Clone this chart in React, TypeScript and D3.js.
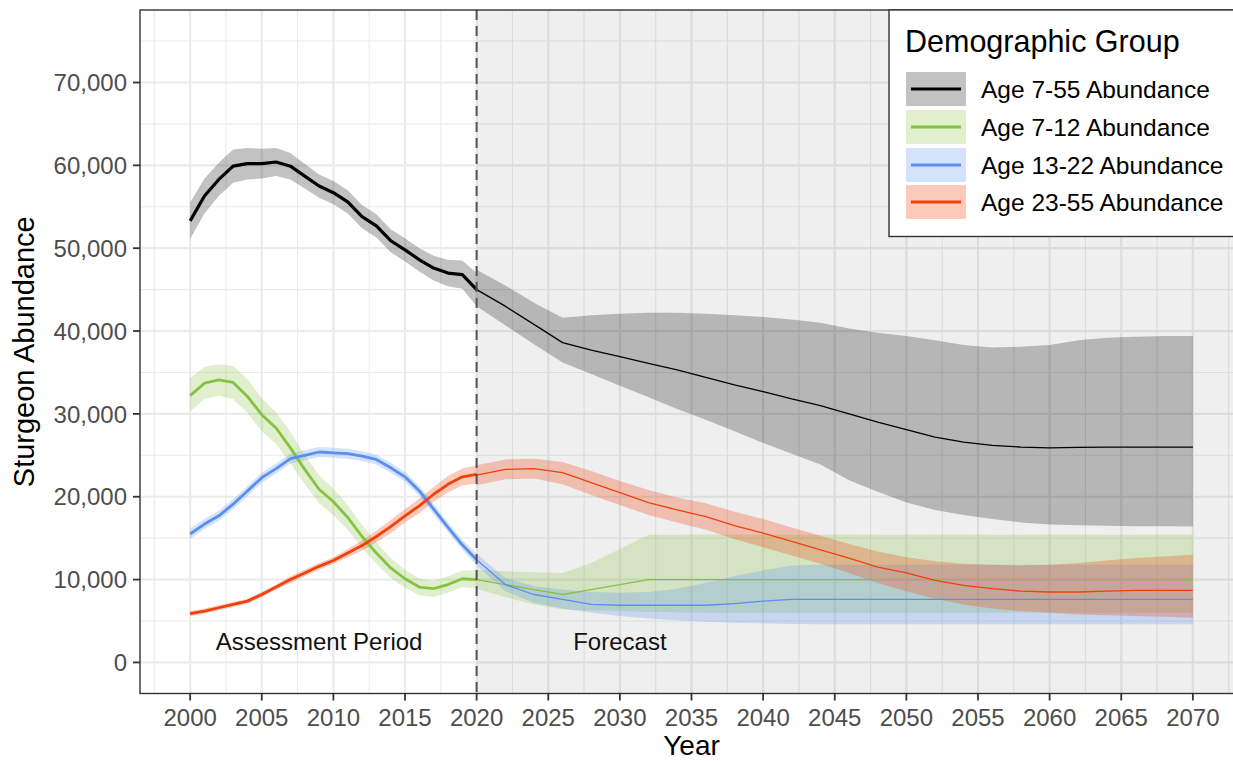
import * as d3 from 'd3';

// Years: stock assessment (annual) and forecast (every two years)
const assessYears = [
  2000, 2001, 2002, 2003, 2004, 2005, 2006, 2007, 2008, 2009, 2010,
  2011, 2012, 2013, 2014, 2015, 2016, 2017, 2018, 2019, 2020,
];
const forecastYears = [
  2020, 2022, 2024, 2026, 2028, 2030, 2032, 2034, 2036, 2038, 2040, 2042, 2044,
  2046, 2048, 2050, 2052, 2054, 2056, 2058, 2060, 2062, 2064, 2066, 2068, 2070,
];

// Age 7-55
const allAssessMean = [53300, 56300, 58300, 59900, 60200, 60200, 60400, 59900, 58700, 57500, 56700, 55600, 53800, 52700, 50900, 49800, 48600, 47600, 47000, 46800, 45000];
const allAssessHi = [55500, 58400, 60300, 61900, 62100, 62000, 62100, 61500, 60200, 58900, 58100, 57000, 55200, 54100, 52300, 51200, 50000, 49100, 48600, 48500, 47000];
const allAssessLo = [51100, 54200, 56300, 57900, 58300, 58400, 58700, 58300, 57200, 56100, 55300, 54200, 52400, 51300, 49500, 48400, 47200, 46100, 45400, 45100, 43000];
const allFcMean = [45000, 43000, 40800, 38600, 37700, 36900, 36100, 35300, 34400, 33500, 32700, 31800, 31000, 30000, 29000, 28100, 27200, 26600, 26200, 26000, 25900, 25950, 26000, 26000, 26000, 26000];
const allFcHi = [47400, 45500, 43400, 41600, 41900, 42100, 42200, 42200, 42100, 41900, 41700, 41400, 41000, 40300, 39800, 39400, 38900, 38300, 38000, 38100, 38300, 38900, 39200, 39300, 39400, 39400];
const allFcLo = [43000, 40700, 38400, 36200, 34800, 33400, 32000, 30600, 29300, 27900, 26500, 25200, 23900, 22000, 20600, 19300, 18400, 17800, 17300, 16900, 16650, 16550, 16500, 16450, 16450, 16400];

// Age 7-12
const youngAssessMean = [32200, 33700, 34100, 33800, 32100, 29900, 28300, 25900, 23300, 20900, 19400, 17500, 15200, 13200, 11400, 10100, 9100, 8900, 9400, 10100, 10000];
const youngAssessHi = [34300, 35700, 36000, 35800, 34200, 31900, 30200, 27800, 25100, 22600, 21000, 19000, 16600, 14500, 12600, 11200, 10100, 9900, 10400, 11100, 11100];
const youngAssessLo = [30300, 31800, 32200, 31800, 30100, 27900, 26400, 24000, 21500, 19200, 17800, 16000, 13800, 11900, 10200, 9000, 8100, 7900, 8400, 9100, 8900];
const youngFcMean = [10000, 9400, 8800, 8200, 8800, 9400, 10000, 10000, 10000, 10000, 10000, 10000, 10000, 10000, 10000, 10000, 10000, 10000, 10000, 10000, 10000, 10000, 10000, 10000, 10000, 10000];
const youngFcHi = [11200, 11000, 10900, 10800, 12000, 13700, 15400, 15400, 15450, 15450, 15400, 15400, 15450, 15450, 15400, 15400, 15450, 15450, 15400, 15400, 15450, 15450, 15400, 15400, 15450, 15450];
const youngFcLo = [8900, 7900, 7000, 6400, 6300, 6200, 6100, 6050, 6000, 6000, 6000, 6000, 6000, 6000, 6000, 6000, 6000, 6000, 6000, 6000, 6000, 6000, 6000, 6000, 6000, 6000];

// Age 13-22
const midAssessMean = [15500, 16700, 17700, 19100, 20700, 22300, 23400, 24600, 25000, 25400, 25300, 25200, 24900, 24500, 23500, 22400, 20700, 18500, 16300, 14200, 12400];
const midAssessHi = [16200, 17300, 18300, 19700, 21300, 22900, 24000, 25200, 25600, 26000, 25900, 25800, 25500, 25100, 24100, 23000, 21300, 19100, 16900, 14800, 13100];
const midAssessLo = [14900, 16100, 17100, 18500, 20100, 21700, 22800, 24000, 24400, 24800, 24700, 24600, 24300, 23900, 22900, 21800, 20100, 17900, 15700, 13600, 11700];
const midFcMean = [12400, 9400, 8200, 7600, 7000, 6900, 6900, 6900, 6900, 7100, 7400, 7600, 7600, 7600, 7600, 7600, 7600, 7600, 7600, 7600, 7600, 7600, 7600, 7600, 7600, 7600];
const midFcHi = [13100, 10200, 9200, 8800, 8500, 8400, 8500, 8900, 9600, 10400, 11100, 11700, 11800, 11800, 11800, 11800, 11800, 11800, 11800, 11800, 11800, 11800, 11800, 11800, 11800, 11800];
const midFcLo = [11700, 8600, 7200, 6500, 6000, 5600, 5300, 5100, 4900, 4800, 4700, 4650, 4600, 4600, 4600, 4600, 4600, 4600, 4600, 4600, 4600, 4600, 4600, 4600, 4600, 4600];

// Age 23-55
const oldAssessMean = [5900, 6200, 6600, 7000, 7400, 8200, 9100, 10000, 10800, 11600, 12300, 13200, 14100, 15200, 16400, 17700, 18900, 20300, 21500, 22400, 22700];
const oldAssessHi = [6200, 6500, 6900, 7300, 7700, 8500, 9400, 10400, 11200, 12000, 12700, 13700, 14700, 15900, 17200, 18500, 19800, 21200, 22500, 23400, 23800];
const oldAssessLo = [5600, 5900, 6300, 6700, 7100, 7900, 8800, 9600, 10400, 11200, 11900, 12700, 13500, 14500, 15600, 16900, 18000, 19400, 20500, 21400, 21600];
const oldFcMean = [22600, 23300, 23400, 22900, 21700, 20500, 19300, 18400, 17600, 16500, 15600, 14600, 13600, 12600, 11500, 10800, 9900, 9300, 8900, 8600, 8500, 8500, 8600, 8700, 8700, 8700];
const oldFcHi = [23800, 24500, 24600, 24200, 23100, 21900, 20800, 19900, 19200, 18200, 17300, 16300, 15300, 14300, 13400, 12700, 12200, 11900, 11800, 11700, 11800, 12000, 12300, 12600, 12800, 13000];
const oldFcLo = [21400, 22100, 22200, 21500, 20200, 19000, 17800, 16900, 16000, 14900, 13900, 12900, 11900, 10800, 9600, 8600, 7700, 7000, 6500, 6200, 6000, 5800, 5700, 5600, 5500, 5400];

const xTicks = [2000, 2005, 2010, 2015, 2020, 2025, 2030, 2035, 2040, 2045, 2050, 2055, 2060, 2065, 2070];
const xMinor = [1997.5, 2002.5, 2007.5, 2012.5, 2017.5, 2022.5, 2027.5, 2032.5, 2037.5, 2042.5, 2047.5, 2052.5, 2057.5, 2062.5, 2067.5, 2072.5];
const yTicks = [0, 10000, 20000, 30000, 40000, 50000, 60000, 70000];
const yMinor = [5000, 15000, 25000, 35000, 45000, 55000, 65000, 75000];

const groups = [
  { label: 'Age 7-55 Abundance', color: '#000000', alpha: 0.24, thick: 3.2,
    assess: [allAssessMean, allAssessLo, allAssessHi], fc: [allFcMean, allFcLo, allFcHi] },
  { label: 'Age 7-12 Abundance', color: '#86c241', alpha: 0.26, thick: 2.8,
    assess: [youngAssessMean, youngAssessLo, youngAssessHi], fc: [youngFcMean, youngFcLo, youngFcHi] },
  { label: 'Age 13-22 Abundance', color: '#5a8ef0', alpha: 0.26, thick: 2.8,
    assess: [midAssessMean, midAssessLo, midAssessHi], fc: [midFcMean, midFcLo, midFcHi] },
  { label: 'Age 23-55 Abundance', color: '#f2400c', alpha: 0.28, thick: 2.8,
    assess: [oldAssessMean, oldAssessLo, oldAssessHi], fc: [oldFcMean, oldFcLo, oldFcHi] },
];

const W = 1233;
const H = 761;
const FONT = '"Liberation Sans", Arial, Helvetica, sans-serif';

export default function App() {
  const x = d3.scaleLinear().domain([1996.5, 2073.5]).range([140, 1243]);
  const y = d3.scaleLinear().domain([-3750, 78750]).range([693.5, 10]);
  const left = x(1996.5);
  const top = y(78750);
  const bottom = y(-3750);
  const right = x(2073.5);

  const toRows = (years: number[], s: number[][]) =>
    years.map((yr, i) => ({ yr, m: s[0][i], lo: s[1][i], hi: s[2][i] }));

  const area = d3
    .area<{ yr: number; lo: number; hi: number }>()
    .x((d) => x(d.yr))
    .y0((d) => y(d.lo))
    .y1((d) => y(d.hi));
  const line = d3
    .line<{ yr: number; m: number }>()
    .x((d) => x(d.yr))
    .y((d) => y(d.m));

  const legendX = 889;
  const legendY = 10;
  const keyTop = [72, 110, 148, 185];

  return (
    <svg
      width={W}
      height={H}
      style={{ position: 'absolute', left: 0, top: 0, display: 'block', fontFamily: FONT }}
    >
      <rect width={W} height={H} fill="#fff" />

      {/* grid */}
      {xMinor.map((v) => (
        <line key={'xm' + v} x1={x(v)} x2={x(v)} y1={top} y2={bottom} stroke="#ebebeb" strokeWidth={1.1} />
      ))}
      {yMinor.map((v) => (
        <line key={'ym' + v} x1={left} x2={right} y1={y(v)} y2={y(v)} stroke="#ebebeb" strokeWidth={1.1} />
      ))}
      {xTicks.map((v) => (
        <line key={'xg' + v} x1={x(v)} x2={x(v)} y1={top} y2={bottom} stroke="#ebebeb" strokeWidth={2.2} />
      ))}
      {yTicks.map((v) => (
        <line key={'yg' + v} x1={left} x2={right} y1={y(v)} y2={y(v)} stroke="#ebebeb" strokeWidth={2.2} />
      ))}

      {/* forecast shading */}
      <rect x={x(2020)} y={top} width={right - x(2020)} height={bottom - top} fill="#000" fillOpacity={0.062} />

      {/* ribbons */}
      {groups.map((g) => (
        <g key={'rb' + g.label}>
          <path d={area(toRows(assessYears, g.assess)) || ''} fill={g.color} fillOpacity={g.alpha} />
          <path d={area(toRows(forecastYears, g.fc)) || ''} fill={g.color} fillOpacity={g.alpha} />
        </g>
      ))}

      {/* lines */}
      {groups.map((g) => (
        <g key={'ln' + g.label} fill="none" stroke={g.color} strokeLinejoin="round">
          <path d={line(toRows(assessYears, g.assess)) || ''} strokeWidth={g.thick} />
          <path d={line(toRows(forecastYears, g.fc)) || ''} strokeWidth={1.3} />
        </g>
      ))}

      {/* divider */}
      <line x1={x(2020)} x2={x(2020)} y1={top} y2={bottom} stroke="#555" strokeWidth={2} strokeDasharray="10 6" />

      <text x={x(2009)} y={y(2500)} fontSize={24} textAnchor="middle" dominantBaseline="central" fill="#111">
        Assessment Period
      </text>
      <text x={x(2030)} y={y(2500)} fontSize={24} textAnchor="middle" dominantBaseline="central" fill="#111">
        Forecast
      </text>

      {/* panel border */}
      <rect x={left} y={top} width={right - left} height={bottom - top} fill="none" stroke="#333" strokeWidth={1.4} />

      {/* axes */}
      {xTicks.map((v) => (
        <g key={'xt' + v}>
          <line x1={x(v)} x2={x(v)} y1={bottom} y2={bottom + 7} stroke="#333" strokeWidth={1.8} />
          <text x={x(v)} y={726} fontSize={24} textAnchor="middle" fill="#4d4d4d">
            {v}
          </text>
        </g>
      ))}
      {yTicks.map((v) => (
        <g key={'yt' + v}>
          <line x1={left - 7} x2={left} y1={y(v)} y2={y(v)} stroke="#333" strokeWidth={1.8} />
          <text x={127} y={y(v)} dy="0.36em" fontSize={24} textAnchor="end" fill="#4d4d4d">
            {d3.format(',')(v)}
          </text>
        </g>
      ))}

      <text x={(left + right) / 2} y={755} fontSize={28} textAnchor="middle" fill="#000">
        Year
      </text>
      <text
        transform={`translate(34,${(top + bottom) / 2}) rotate(-90)`}
        fontSize={29}
        textAnchor="middle"
        fill="#000"
      >
        Sturgeon Abundance
      </text>

      {/* legend */}
      <rect x={legendX} y={legendY} width={400} height={236.5 - legendY} fill="#fff" stroke="#333" strokeWidth={1.4} />
      <text x={905} y={52} fontSize={30.5} fill="#000">
        Demographic Group
      </text>
      {groups.map((g, i) => (
        <g key={'lg' + g.label}>
          <rect x={906} y={keyTop[i]} width={60} height={34} fill={g.color} fillOpacity={g.alpha} />
          <line x1={911} x2={961} y1={keyTop[i] + 17} y2={keyTop[i] + 17} stroke={g.color} strokeWidth={3} />
          <text x={981} y={keyTop[i] + 17} dy="0.36em" fontSize={24.5} fill="#000">
            {g.label}
          </text>
        </g>
      ))}
    </svg>
  );
}
